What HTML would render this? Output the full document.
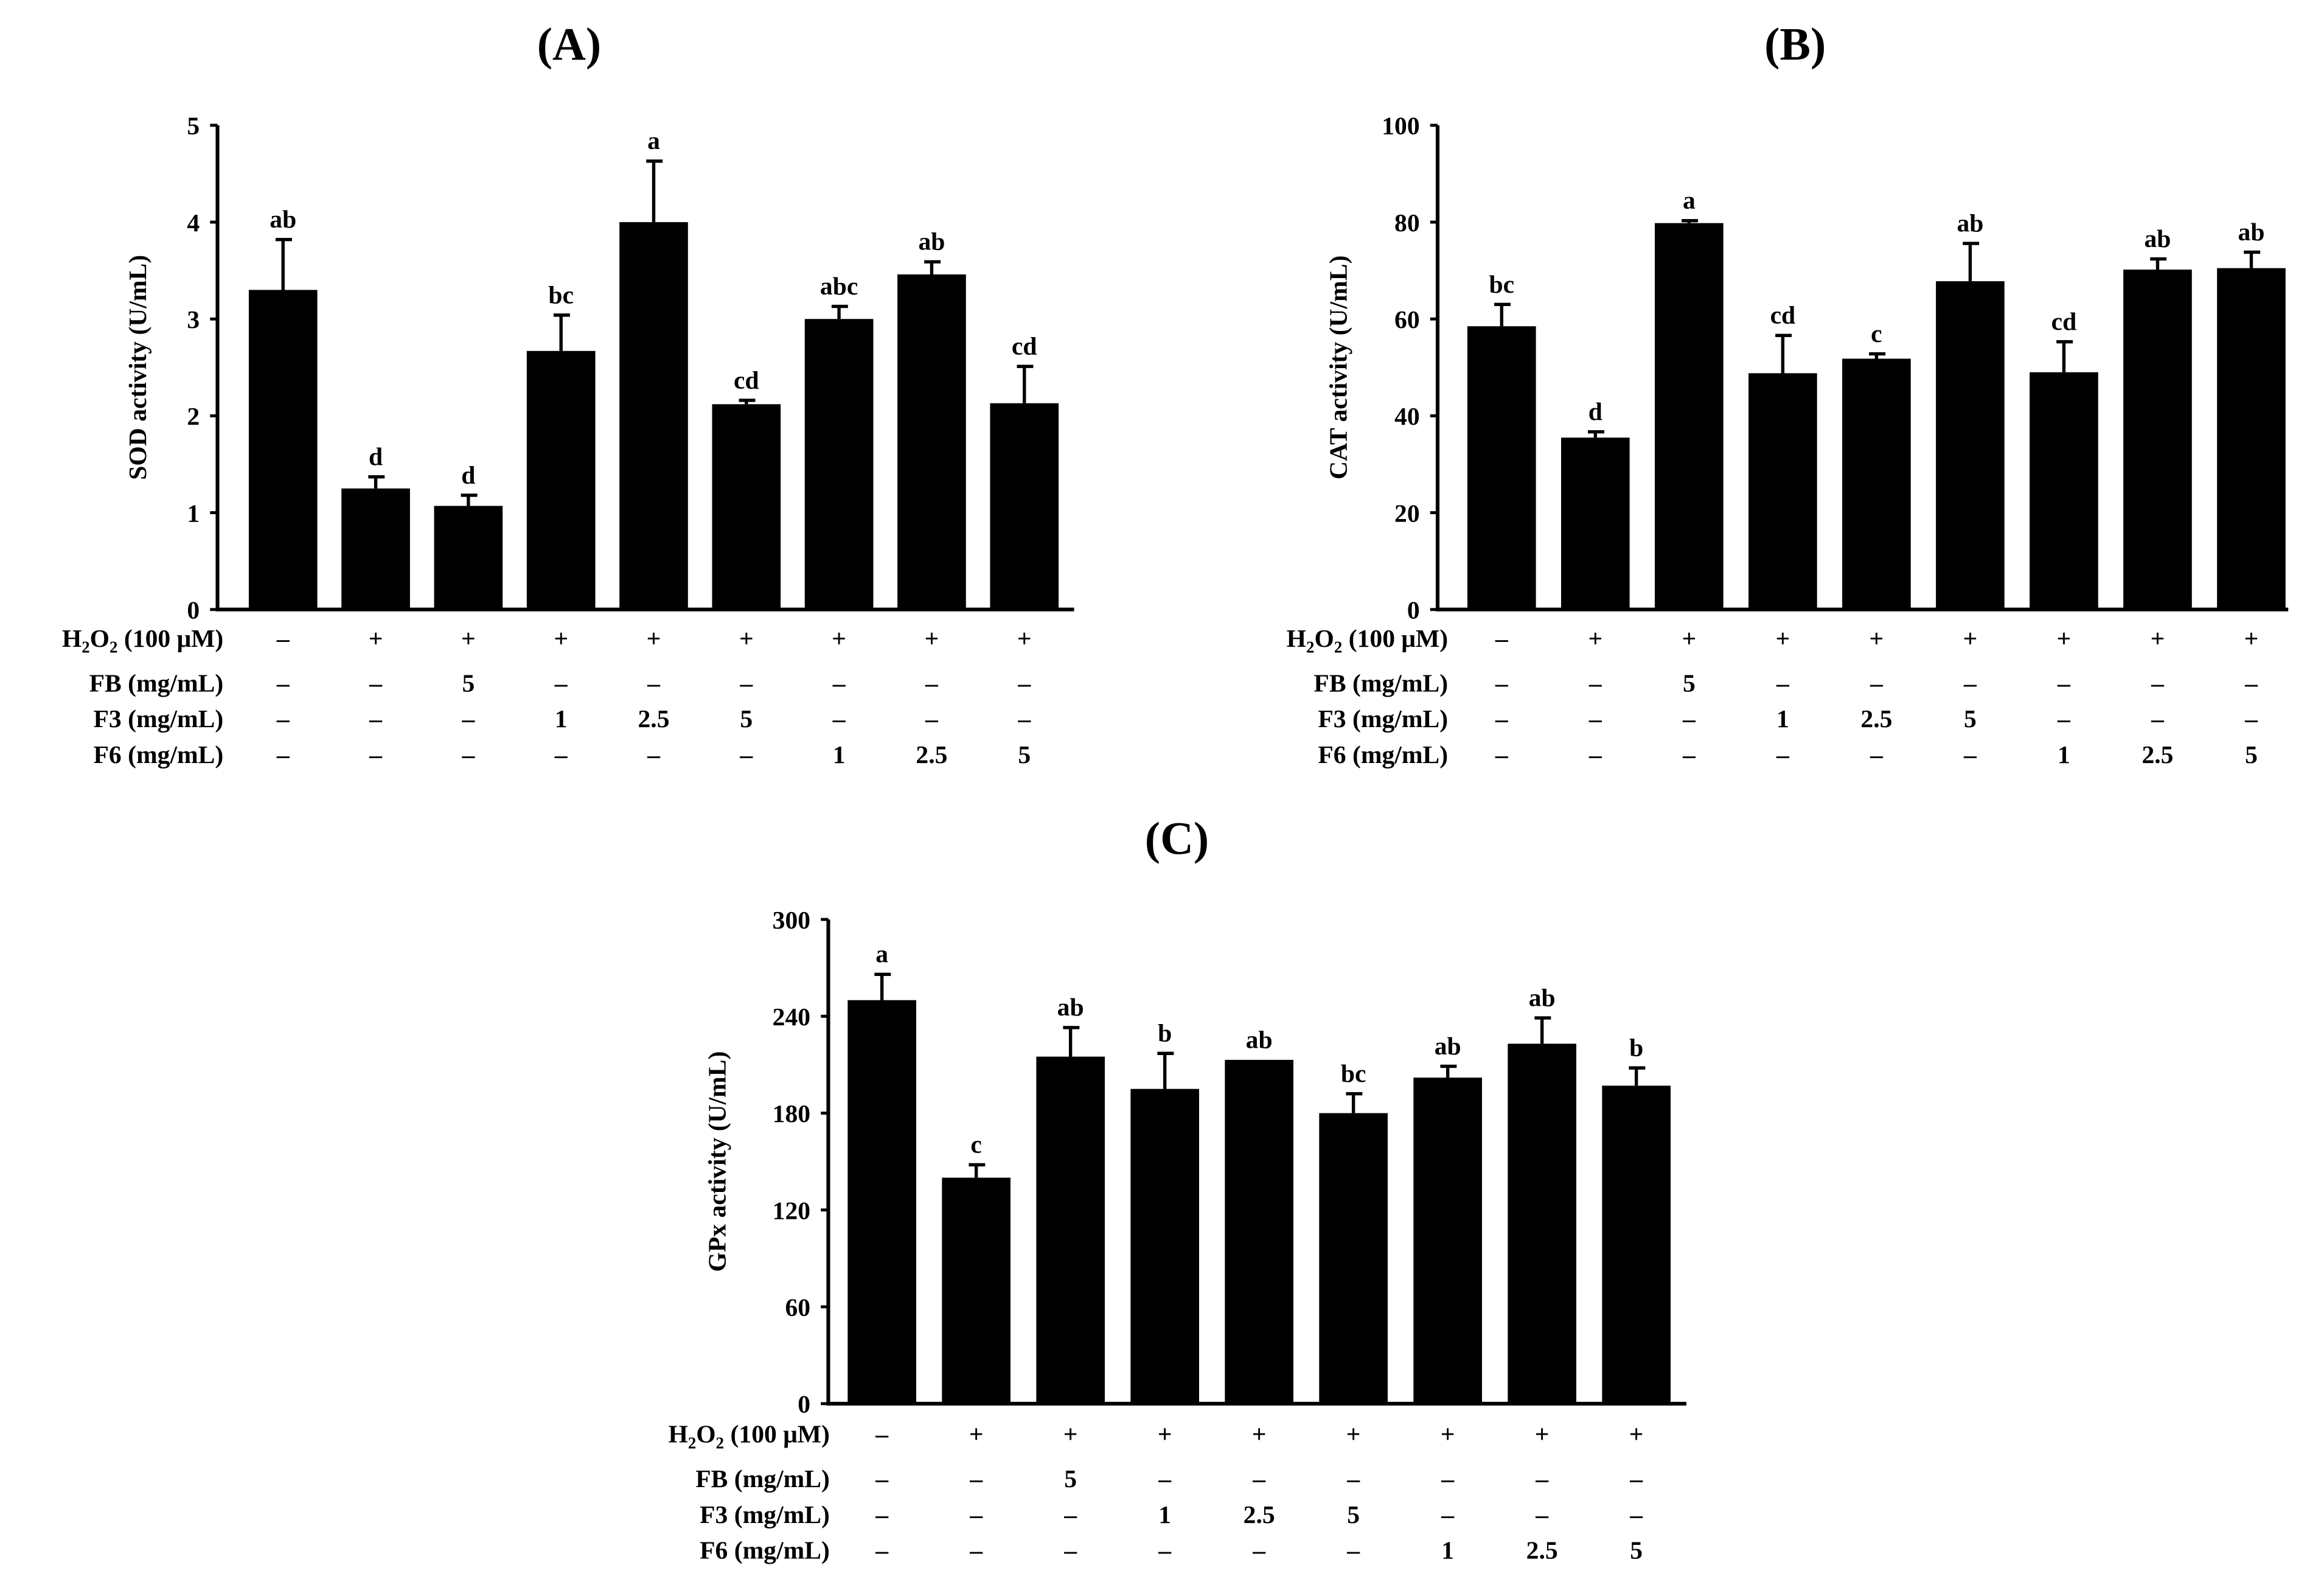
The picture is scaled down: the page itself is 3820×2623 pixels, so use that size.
<!DOCTYPE html>
<html><head><meta charset="utf-8"><style>
html,body{margin:0;padding:0;background:#fff;}
svg{display:block;}
text{font-family:"Liberation Serif",serif;font-weight:bold;fill:#000;}
</style></head><body>
<svg id="fig" width="3820" height="2623" viewBox="0 0 1560 1071" xmlns="http://www.w3.org/2000/svg"></svg>
<script>
// Panel A (SOD)
const sodValues = [3.3, 1.25, 1.07, 2.67, 4.0, 2.12, 3.0, 3.46, 2.13];
const sodErrors = [0.52, 0.12, 0.11, 0.37, 0.63, 0.04, 0.13, 0.13, 0.38];
const sodLetters = ["ab","d","d","bc","a","cd","abc","ab","cd"];
const sodTicks = [0,1,2,3,4,5];
// Panel B (CAT)
const catValues = [58.5, 35.5, 79.8, 48.8, 51.8, 67.8, 49, 70.2, 70.5];
const catErrors = [4.5, 1.2, 0.5, 7.8, 1.0, 7.8, 6.3, 2.2, 3.3];
const catLetters = ["bc","d","a","cd","c","ab","cd","ab","ab"];
const catTicks = [0,20,40,60,80,100];
// Panel C (GPx)
const gpxValues = [250, 140, 215, 195, 213, 180, 202, 223, 197];
const gpxErrors = [16, 8, 18, 22, 0, 12, 7, 16, 11];
const gpxLetters = ["a","c","ab","b","ab","bc","ab","ab","b"];
const gpxTicks = [0,60,120,180,240,300];
// Treatment table
const h2o2Row = ["–","+","+","+","+","+","+","+","+"];
const fbRow = ["–","–","5","–","–","–","–","–","–"];
const f3Row = ["–","–","–","1","2.5","5","–","–","–"];
const f6Row = ["–","–","–","–","–","–","1","2.5","5"];

const NS = "http://www.w3.org/2000/svg";
const svg = document.getElementById("fig");
function mk(tag, attrs, parent){
  const e = document.createElementNS(NS, tag);
  for (const k in attrs) e.setAttribute(k, attrs[k]);
  (parent||svg).appendChild(e);
  return e;
}
function txt(s, x, y, size, anchor, parent){
  const t = mk("text", {x:x, y:y, "font-size":size, "text-anchor":anchor||"middle"}, parent);
  t.textContent = s;
  return t;
}

function panel(cfg){
  const g = mk("g", {});
  
  
  const {ax, y0, ytop, xend, c0, step, bw, max} = cfg;
  const yS = v => y0 - (v / max) * (y0 - ytop);
  const xS = i => c0 + i * step;

  const title = txt(cfg.title, cfg.titleX, cfg.titleY, 31, "middle", g);
  
  

  cfg.values.forEach((v, i) => {
    const x = xS(i), top = yS(v), eTop = yS(v + cfg.errors[i]);
    const r = mk("rect", {x: x - bw/2, y: top, width: bw, height: y0 - top, fill: "#000"}, g);
    
    
    if (cfg.errors[i] > 0) {
      const eb = mk("path", {d: `M${x} ${top} V${eTop} M${x-5} ${eTop} H${x+6}`, stroke: "#000", "stroke-width": 2.2, fill: "none"}, g);
      
      
    }
    const l = txt(cfg.letters[i], x, eTop - 8, 17, "middle", g);
    
    
  });

  const axes = mk("path", {d: `M${ax} ${ytop} V${y0} H${xend}`, stroke: "#000", "stroke-width": 2.5, fill: "none"}, g);
  
  
  cfg.ticks.forEach(t => {
    const y = yS(t);
    const tk = mk("line", {x1: ax - 5, x2: ax, y1: y, y2: y, stroke: "#000", "stroke-width": 2}, g);
    
    
    const tl = txt(String(t), ax - 12, y + 6, 17, "end", g);
    
    
  });
  const yl = txt(cfg.ylabel, 0, 0, 17, "middle", g);
  yl.setAttribute("transform", `translate(${cfg.ylx},${(y0 + ytop) / 2}) rotate(-90)`);
  
  

  const rows = [h2o2Row, fbRow, f3Row, f6Row];
  const names = [null, "FB (mg/mL)", "F3 (mg/mL)", "F6 (mg/mL)"];
  rows.forEach((row, r) => {
    const y = cfg.rowY[r] + 6;
    let lab;
    if (r === 0) {
      lab = mk("text", {x: cfg.labRight, y: y, "font-size": 17, "text-anchor": "end"}, g);
      lab.innerHTML = 'H<tspan font-size="11" dy="4">2</tspan><tspan dy="-4">O</tspan><tspan font-size="11" dy="4">2</tspan><tspan dy="-4"> (100 μM)</tspan>';
    } else {
      lab = txt(names[r], cfg.labRight, y, 17, "end", g);
    }
    
    
    row.forEach((s, i) => {
      const c = txt(s, xS(i), y, 17, "middle", g);
      
      
    });
  });
}

panel({name:"panel-a-sod", title:"(A)", titleX:382, titleY:40, ax:146, y0:409, ytop:84, xend:721, c0:190, step:62.2, bw:46, max:5,
  values:sodValues, errors:sodErrors, letters:sodLetters, ticks:sodTicks, ylabel:"SOD activity (U/mL)", ylx:98,
  rowY:[428,458,482,506], labRight:150});
panel({name:"panel-b-cat", title:"(B)", titleX:1205, titleY:40, ax:965, y0:409, ytop:84, xend:1536, c0:1008, step:62.9, bw:46, max:100,
  values:catValues, errors:catErrors, letters:catLetters, ticks:catTicks, ylabel:"CAT activity (U/mL)", ylx:904,
  rowY:[428,458,482,506], labRight:972});
panel({name:"panel-c-gpx", title:"(C)", titleX:790, titleY:573, ax:556, y0:942, ytop:617, xend:1132, c0:592, step:63.3, bw:46, max:300,
  values:gpxValues, errors:gpxErrors, letters:gpxLetters, ticks:gpxTicks, ylabel:"GPx activity (U/mL)", ylx:487,
  rowY:[962,992,1016,1040], labRight:557});
</script>
</body></html>
